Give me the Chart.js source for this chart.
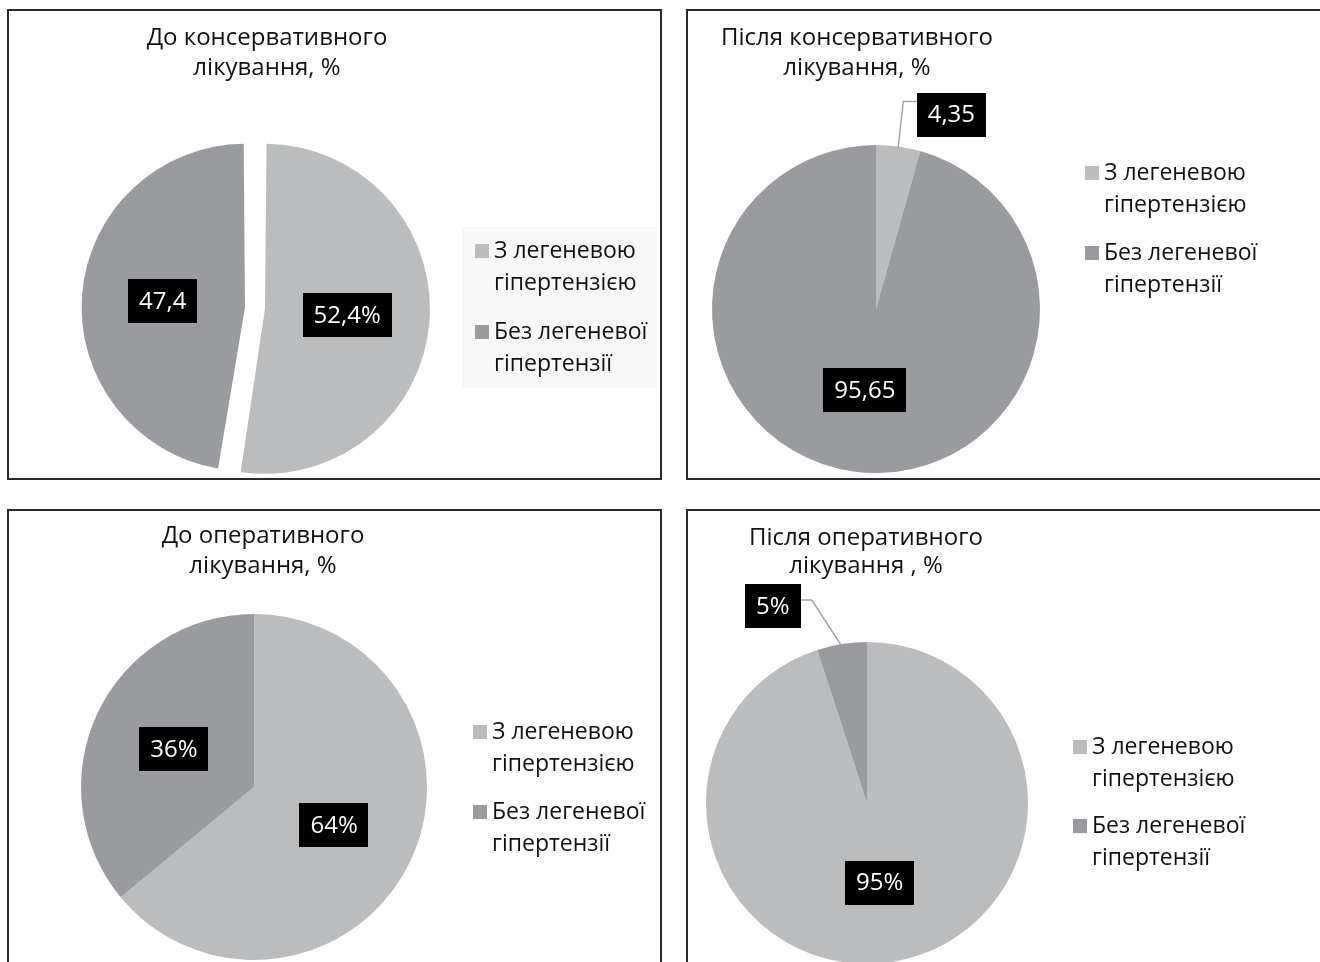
<!DOCTYPE html>
<html lang="uk">
<head>
<meta charset="utf-8">
<script src="https://cdn.jsdelivr.net/npm/chart.js@4.4.1/dist/chart.umd.min.js"></script>
<style>
  html, body { margin: 0; padding: 0; background: #fff; }
  body { width: 1320px; height: 962px; position: relative; overflow: hidden; }
  .panel { position: absolute; border: 2px solid #2b2b2b; background: #fff; overflow: hidden; }
  .panel canvas { position: absolute; left: 0; top: 0; }
</style>
</head>
<body>
<div class="panel" style="left:7px;top:9px;width:651px;height:467px"><canvas id="consBefore" width="651" height="520"></canvas></div>
<div class="panel" style="left:686px;top:9px;width:660px;height:467px"><canvas id="consAfter" width="660" height="520"></canvas></div>
<div class="panel" style="left:7px;top:509px;width:651px;height:470px"><canvas id="opBefore" width="651" height="520"></canvas></div>
<div class="panel" style="left:686px;top:509px;width:660px;height:470px"><canvas id="opAfter" width="660" height="520"></canvas></div>
<script>
// categories (same for every pie)
const categories = [["З легеневою", "гіпертензією"], ["Без легеневої", "гіпертензії"]];
const sliceColors = ["#bbbcbe", "#999b9e"];

// conservative treatment
const titleConsBefore = ["До консервативного", "лікування, %"];
const valuesConsBefore = [52.4, 47.4];
const suffixConsBefore = ["%", ""];

const titleConsAfter = ["Після консервативного", "лікування, %"];
const valuesConsAfter = [4.35, 95.65];
const suffixConsAfter = ["", ""];

// surgical treatment
const titleOpBefore = ["До оперативного", "лікування, %"];
const valuesOpBefore = [64, 36];
const suffixOpBefore = ["%", "%"];

const titleOpAfter = ["Після оперативного", "лікування , %"];
const valuesOpAfter = [95, 5];
const suffixOpAfter = ["%", "%"];

const FAMILY = "'Open Sans', 'Noto Sans', sans-serif";
const TITLE_FONT = "24px " + FAMILY;
const LEGEND_FONT = "23px " + FAMILY;
const LABEL_FONT = "24px " + FAMILY;

function fmt(v, suffix) {
  return String(v).replace(".", ",") + suffix;
}

// padding that puts a pie of layout radius r (plus explode offset) at (cx, cy)
function padFor(w, h, cx, cy, r, off) {
  const half = r + off / 2;
  return { left: cx - half, top: cy - half, right: w - cx - half, bottom: h - cy - half };
}

// title, legend and value boxes drawn on top of the pie
function makeDecor(cfg) {
  return {
    id: "decor",
    afterDatasetsDraw(chart) {
      const ctx = chart.ctx;
      const meta = chart.getDatasetMeta(0);
      const ds = chart.data.datasets[0];
      ctx.save();
      ctx.textBaseline = "middle";

      // title
      ctx.font = TITLE_FONT;
      ctx.fillStyle = "#111";
      ctx.textAlign = "center";
      cfg.title.forEach((line, i) => ctx.fillText(line, cfg.titleX, cfg.titleY[i]));

      // legend
      const lg = cfg.legend;
      if (lg.bg) {
        ctx.fillStyle = lg.bg;
        ctx.fillRect(lg.bgBox[0], lg.bgBox[1], lg.bgBox[2], lg.bgBox[3]);
      }
      ctx.font = LEGEND_FONT;
      ctx.textAlign = "left";
      chart.data.labels.forEach((lines, i) => {
        const y0 = lg.y + i * lg.itemGap;
        ctx.fillStyle = ds.backgroundColor[i];
        ctx.fillRect(lg.x, y0 - 7, 14, 14);
        ctx.fillStyle = "#111";
        lines.forEach((t, j) => ctx.fillText(t, lg.x + 19, y0 + j * lg.lineGap));
      });

      // value labels
      ctx.font = LABEL_FONT;
      meta.data.forEach((arc, i) => {
        const p = arc.getProps(["x", "y", "startAngle", "endAngle", "outerRadius"], true);
        const mid = (p.startAngle + p.endAngle) / 2;
        const shift = (arc.options.offset || 0) / 4; // arc is translated by offset/4
        const dx = Math.cos(mid), dy = Math.sin(mid);
        const text = fmt(ds.data[i], cfg.suffix[i]);
        const tw = ctx.measureText(text).width;
        const bw = tw + 22, bh = 44;
        const lab = cfg.outside[i];
        let bx, by;
        if (lab) {
          const ox = p.x + dx * p.outerRadius, oy = p.y + dy * p.outerRadius;
          bx = ox + lab.box[0];
          by = oy + lab.box[1];
          const ex = ox + lab.elbow[0], ey = oy + lab.elbow[1];
          const endX = lab.box[0] > 0 ? bx - bw / 2 : bx + bw / 2;
          ctx.strokeStyle = "#a3a3a3";
          ctx.lineWidth = 1.5;
          ctx.beginPath();
          ctx.moveTo(ox - dx * 3, oy - dy * 3);
          ctx.lineTo(ex, ey);
          ctx.lineTo(endX, ey);
          ctx.stroke();
        } else {
          const rr = p.outerRadius / 2 + shift + (cfg.push || 0);
          bx = p.x + dx * rr;
          by = p.y + dy * rr;
        }
        ctx.fillStyle = "#000";
        ctx.fillRect(Math.round(bx - bw / 2), Math.round(by - bh / 2), Math.round(bw), bh);
        ctx.fillStyle = "#fff";
        ctx.textAlign = "center";
        ctx.fillText(text, bx, by + 1);
      });
      ctx.restore();
    }
  };
}

function makePie(id, values, offset, pie, decor) {
  const cv = document.getElementById(id);
  new Chart(cv, {
    type: "pie",
    data: {
      labels: categories,
      datasets: [{
        data: values,
        backgroundColor: sliceColors,
        borderWidth: 0,
        offset: offset
      }]
    },
    options: {
      responsive: false,
      animation: false,
      events: [],
      layout: { padding: padFor(cv.width, cv.height, pie.cx, pie.cy, pie.r, offset) },
      plugins: {
        legend: { display: false },
        tooltip: { enabled: false }
      }
    },
    plugins: [makeDecor(decor)]
  });
}

// exploded pie: offset 40 moves each slice 10px out and grows it ~10px
makePie("consBefore", valuesConsBefore, 40, { cx: 246, cy: 297, r: 155 }, {
  title: titleConsBefore, titleX: 258, titleY: [27, 57],
  suffix: suffixConsBefore, outside: [null, null], push: 5,
  legend: { x: 466, y: 240, lineGap: 32, itemGap: 81, bg: "#f7f7f7", bgBox: [453, 216, 195, 161] }
});

makePie("consAfter", valuesConsAfter, 0, { cx: 188, cy: 298, r: 164 }, {
  title: titleConsAfter, titleX: 169, titleY: [27, 57],
  suffix: suffixConsAfter,
  outside: [{ elbow: [5, -45], box: [53, -32] }, null],
  legend: { x: 397, y: 162, lineGap: 32, itemGap: 80 }
});

makePie("opBefore", valuesOpBefore, 0, { cx: 245, cy: 276, r: 173 }, {
  title: titleOpBefore, titleX: 254, titleY: [25, 55],
  suffix: suffixOpBefore, outside: [null, null], push: 2,
  legend: { x: 464, y: 221, lineGap: 32, itemGap: 80 }
});

makePie("opAfter", valuesOpAfter, 0, { cx: 179, cy: 292, r: 161 }, {
  title: titleOpAfter, titleX: 178, titleY: [27, 55],
  suffix: suffixOpAfter,
  outside: [null, { elbow: [-30, -44], box: [-69, -38] }],
  legend: { x: 385, y: 236, lineGap: 32, itemGap: 79 }
});
</script>
</body>
</html>
